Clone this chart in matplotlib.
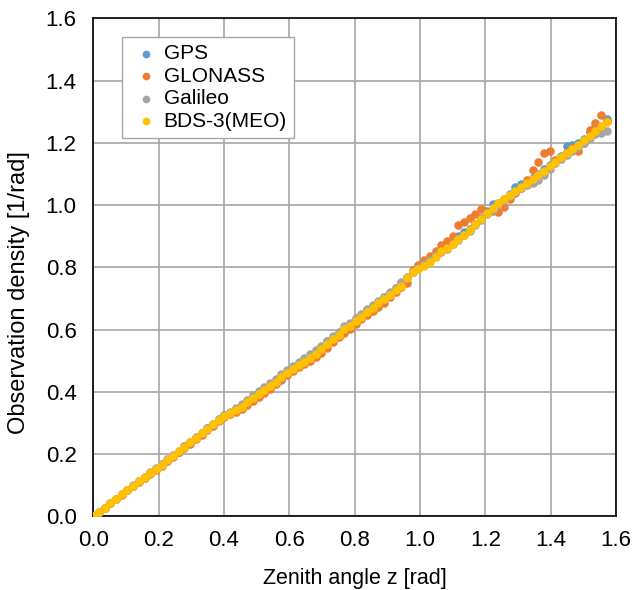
import numpy as np
import matplotlib
matplotlib.use("Agg")
import matplotlib.pyplot as plt

plt.rcParams["font.family"] = ["Liberation Sans", "DejaVu Sans"]

# zenith angle, one point per degree (0..90 deg) in rad
zenith_deg = np.arange(0, 91)
zenith = np.radians(zenith_deg)

gps = [0.000, 0.014, 0.028, 0.042, 0.056, 0.070, 0.084, 0.098, 0.112, 0.126,
       0.140, 0.153, 0.167, 0.177, 0.192, 0.208, 0.225, 0.240, 0.253, 0.268,
       0.282, 0.296, 0.311, 0.324, 0.333, 0.343, 0.355, 0.369, 0.383, 0.392,
       0.400, 0.414, 0.428, 0.438, 0.456, 0.474, 0.489, 0.503, 0.512, 0.526,
       0.544, 0.562, 0.575, 0.590, 0.603, 0.616, 0.632, 0.648, 0.662, 0.676,
       0.690, 0.703, 0.716, 0.733, 0.748, 0.764, 0.786, 0.798, 0.808, 0.826,
       0.842, 0.857, 0.870, 0.886, 0.900, 0.912, 0.923, 0.940, 0.958, 0.980,
       1.002, 1.008, 1.018, 1.035, 1.058, 1.068, 1.075, 1.086, 1.100, 1.115,
       1.130, 1.143, 1.158, 1.190, 1.193, 1.200, 1.212, 1.236, 1.250, 1.252,
       1.275]

glonass = [0.000, 0.013, 0.027, 0.041, 0.055, 0.069, 0.083, 0.097, 0.110, 0.122,
           0.135, 0.148, 0.162, 0.176, 0.191, 0.205, 0.219, 0.233, 0.247, 0.262,
           0.277, 0.291, 0.305, 0.318, 0.328, 0.336, 0.346, 0.358, 0.370, 0.383,
           0.396, 0.410, 0.425, 0.440, 0.455, 0.468, 0.478, 0.488, 0.500, 0.512,
           0.525, 0.542, 0.560, 0.576, 0.590, 0.603, 0.617, 0.633, 0.648, 0.660,
           0.672, 0.686, 0.703, 0.720, 0.738, 0.750, 0.790, 0.808, 0.822, 0.836,
           0.852, 0.870, 0.885, 0.902, 0.935, 0.946, 0.957, 0.970, 0.986, 0.975,
           0.980, 0.978, 0.995, 1.020, 1.040, 1.055, 1.080, 1.113, 1.137, 1.167,
           1.173, 1.145, 1.155, 1.170, 1.182, 1.175, 1.200, 1.240, 1.262, 1.288,
           1.270]

galileo = [0.000, 0.014, 0.028, 0.043, 0.057, 0.071, 0.085, 0.099, 0.113, 0.127,
           0.141, 0.155, 0.169, 0.183, 0.197, 0.211, 0.225, 0.240, 0.254, 0.268,
           0.283, 0.297, 0.311, 0.324, 0.336, 0.348, 0.361, 0.375, 0.389, 0.402,
           0.415, 0.428, 0.442, 0.456, 0.470, 0.484, 0.497, 0.509, 0.520, 0.533,
           0.548, 0.564, 0.578, 0.593, 0.610, 0.622, 0.636, 0.650, 0.665, 0.679,
           0.693, 0.706, 0.719, 0.734, 0.752, 0.768, 0.784, 0.798, 0.810, 0.824,
           0.838, 0.850, 0.860, 0.874, 0.888, 0.903, 0.918, 0.935, 0.952, 0.970,
           0.985, 1.000, 1.015, 1.030, 1.042, 1.055, 1.063, 1.070, 1.080, 1.098,
           1.115, 1.135, 1.148, 1.160, 1.172, 1.188, 1.200, 1.215, 1.228, 1.232,
           1.237]

bds3 = [0.000, 0.014, 0.028, 0.042, 0.056, 0.070, 0.084, 0.098, 0.112, 0.125,
        0.139, 0.153, 0.166, 0.180, 0.195, 0.210, 0.224, 0.238, 0.252, 0.266,
        0.281, 0.295, 0.309, 0.322, 0.331, 0.340, 0.352, 0.366, 0.380, 0.393,
        0.405, 0.418, 0.432, 0.446, 0.460, 0.474, 0.487, 0.497, 0.507, 0.520,
        0.536, 0.553, 0.568, 0.583, 0.603, 0.612, 0.626, 0.641, 0.656, 0.670,
        0.684, 0.699, 0.712, 0.728, 0.740, 0.765, 0.784, 0.795, 0.805, 0.818,
        0.833, 0.852, 0.862, 0.876, 0.891, 0.905, 0.920, 0.940, 0.955, 0.975,
        0.990, 1.005, 1.020, 1.033, 1.046, 1.058, 1.070, 1.085, 1.097, 1.110,
        1.124, 1.139, 1.153, 1.168, 1.180, 1.194, 1.208, 1.223, 1.238, 1.253,
        1.268]

series = [
    ("GPS", gps, "#5B9BD5"),
    ("GLONASS", glonass, "#ED7D31"),
    ("Galileo", galileo, "#A5A5A5"),
    ("BDS-3(MEO)", bds3, "#FFC000"),
]

fig = plt.figure(figsize=(6.34, 5.90), dpi=100)
ax = fig.add_axes([0.147, 0.125, 0.825, 0.844])

for name, values, color in series:
    ax.scatter(zenith, values, s=38, color=color, label=name, linewidths=0, zorder=3)

ax.set_xlim(0, 1.6)
ax.set_ylim(0, 1.6)
ax.set_xticks(np.arange(0, 1.61, 0.2))
ax.set_yticks(np.arange(0, 1.61, 0.2))
ax.xaxis.set_major_formatter(plt.FormatStrFormatter("%.1f"))
ax.yaxis.set_major_formatter(plt.FormatStrFormatter("%.1f"))
ax.tick_params(length=0, labelsize=16)
ax.tick_params(axis="x", pad=10)
ax.tick_params(axis="y", pad=12)
ax.grid(True, color="#a6a6a6", linewidth=1.2)
ax.set_axisbelow(True)
for sp in ax.spines.values():
    sp.set_color("black")
    sp.set_linewidth(1.2)

ax.set_xlabel("Zenith angle z [rad]", fontsize=15.5, labelpad=12)
ax.set_ylabel("Observation density [1/rad]", fontsize=17)
ax.yaxis.set_label_coords(-0.12, 0.45)

leg = ax.legend(loc="upper left", bbox_to_anchor=(0.055, 0.963), fontsize=15,
                frameon=True, fancybox=False, borderpad=0.35, labelspacing=0.17,
                handletextpad=0.05, handlelength=1.6, borderaxespad=0,
                markerscale=0.9)
leg.get_frame().set_edgecolor("#a6a6a6")
leg.get_frame().set_linewidth(1.0)
leg.get_frame().set_alpha(1)

fig.savefig("out.png", dpi=100)
